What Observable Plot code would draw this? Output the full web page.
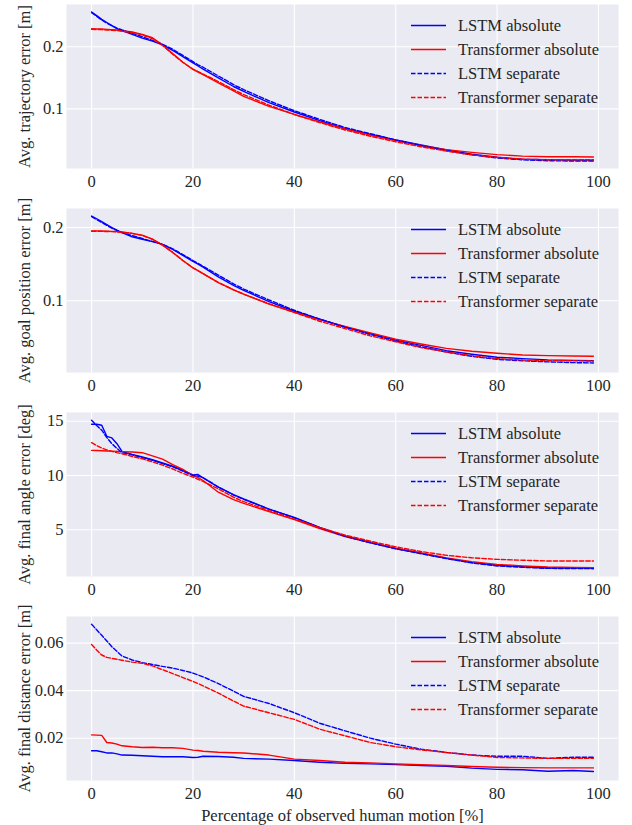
<!DOCTYPE html>
<html>
<head>
<meta charset="utf-8">
<script src="https://cdn.jsdelivr.net/npm/d3@7"></script>
<script src="https://cdn.jsdelivr.net/npm/@observablehq/plot@0.6"></script>
<style>
  body { margin: 0; background: #ffffff; }
  #chart { width: 632px; }
  .panel { position: relative; width: 632px; }
  .panel svg { display: block; }
  .panel svg, .panel svg text { font-family: 'Liberation Serif', 'Times New Roman', serif !important; }
</style>
</head>
<body>
<div id="chart"></div>
<script>
// ---------- data ----------
const xPct = [0,1,2,3,4,5,6,8,10,12,14,16,18,20,21,22,25,28,30,35,40,45,50,55,60,65,70,75,80,85,90,95,99];
const seriesNames = ["LSTM absolute", "Transformer absolute", "LSTM separate", "Transformer separate"];
const seriesColors = ["blue", "red", "blue", "red"];
const seriesDashed = [false, false, true, true];

// Avg. trajectory error [m]
const trajLstmAbs  = [0.256,0.250,0.244,0.239,0.234,0.229,0.226,0.220,0.214,0.209,0.203,0.194,0.184,0.174,0.169,0.164,0.150,0.136,0.128,0.110,0.095,0.081,0.068,0.059,0.050,0.042,0.034,0.027,0.022,0.019,0.018,0.0175,0.0175];
const trajTrAbs    = [0.229,0.2288,0.2285,0.228,0.2275,0.227,0.226,0.224,0.220,0.2145,0.203,0.189,0.175,0.1634,0.159,0.155,0.142,0.129,0.120,0.104,0.091,0.079,0.068,0.058,0.049,0.041,0.0344,0.030,0.0263,0.024,0.023,0.0228,0.0226];
const trajLstmSep  = [0.255,0.249,0.243,0.238,0.234,0.230,0.227,0.222,0.216,0.210,0.204,0.196,0.186,0.176,0.171,0.167,0.153,0.139,0.131,0.113,0.097,0.083,0.070,0.060,0.050,0.041,0.033,0.026,0.021,0.018,0.0165,0.016,0.016];
const trajTrSep    = [0.228,0.2278,0.2275,0.227,0.2265,0.226,0.225,0.223,0.219,0.213,0.202,0.188,0.175,0.164,0.160,0.156,0.144,0.131,0.123,0.106,0.091,0.078,0.066,0.056,0.047,0.039,0.032,0.026,0.022,0.019,0.018,0.018,0.018];

// Avg. goal position error [m]
const goalLstmAbs  = [0.2157,0.212,0.208,0.204,0.200,0.1964,0.193,0.1874,0.184,0.1807,0.177,0.170,0.162,0.1538,0.150,0.146,0.1327,0.121,0.1143,0.0987,0.0857,0.075,0.0641,0.055,0.0462,0.039,0.0318,0.027,0.0229,0.021,0.0193,0.0185,0.018];
const goalTrAbs    = [0.1955,0.1954,0.1953,0.195,0.1948,0.1945,0.194,0.192,0.1897,0.1843,0.176,0.166,0.155,0.1448,0.141,0.137,0.1247,0.115,0.109,0.0955,0.0843,0.074,0.065,0.056,0.0475,0.041,0.035,0.031,0.0283,0.026,0.0251,0.0245,0.0242];
const goalLstmSep  = [0.215,0.211,0.207,0.203,0.199,0.196,0.193,0.189,0.185,0.181,0.177,0.171,0.163,0.155,0.151,0.147,0.135,0.123,0.116,0.101,0.087,0.075,0.064,0.054,0.045,0.037,0.030,0.024,0.020,0.018,0.0165,0.0155,0.015];
const goalTrSep    = [0.195,0.1949,0.1948,0.1946,0.1944,0.194,0.1935,0.192,0.189,0.184,0.176,0.166,0.155,0.145,0.141,0.137,0.125,0.115,0.109,0.096,0.084,0.072,0.062,0.052,0.044,0.036,0.030,0.025,0.021,0.019,0.018,0.018,0.0177];

// Avg. final angle error [deg]
const angLstmAbs   = [14.72,14.72,14.63,13.6,13.46,12.93,12.22,11.94,11.7,11.45,11.15,10.85,10.46,10.06,10.09,9.78,8.92,8.24,7.84,6.91,6.14,5.22,4.44,3.83,3.27,2.84,2.38,1.98,1.73,1.6,1.48,1.48,1.48];
const angTrAbs     = [12.31,12.3,12.28,12.26,12.24,12.22,12.2,12.16,12.1,11.8,11.5,11.0,10.56,10.0,9.8,9.54,8.46,7.78,7.44,6.67,5.93,5.12,4.38,3.83,3.3,2.87,2.41,2.07,1.82,1.67,1.57,1.53,1.51];
const angLstmSep   = [15.09,14.6,14.17,13.5,12.93,12.5,12.1,11.9,11.65,11.4,11.1,10.8,10.4,10.0,9.95,9.8,8.95,8.2,7.8,6.9,6.1,5.2,4.4,3.8,3.25,2.8,2.35,1.95,1.67,1.55,1.45,1.43,1.42];
const angTrSep     = [13.02,12.75,12.53,12.35,12.22,12.1,12.0,11.75,11.54,11.25,10.95,10.6,10.2,9.85,9.65,9.45,8.77,8.0,7.6,6.76,5.99,5.2,4.51,3.95,3.43,3.0,2.65,2.42,2.28,2.2,2.13,2.13,2.13];

// Avg. final distance error [m]
const distLstmAbs  = [0.0147,0.0147,0.0143,0.0138,0.0138,0.0134,0.0129,0.0128,0.0126,0.0124,0.0122,0.0122,0.0122,0.0119,0.012,0.0124,0.0123,0.012,0.0115,0.0112,0.0106,0.0099,0.0094,0.0092,0.0089,0.0085,0.0082,0.0074,0.0069,0.0067,0.0061,0.0064,0.006];
const distTrAbs    = [0.0214,0.0213,0.0212,0.0182,0.018,0.0175,0.0168,0.0164,0.0161,0.0162,0.016,0.016,0.0157,0.015,0.0148,0.0145,0.0141,0.0139,0.0138,0.0129,0.0112,0.0106,0.0099,0.0096,0.0092,0.0088,0.0085,0.0081,0.0078,0.0076,0.0075,0.0075,0.0075];
const distLstmSep  = [0.0679,0.0656,0.0633,0.0609,0.0585,0.0565,0.0546,0.0529,0.0518,0.051,0.0502,0.0495,0.0485,0.0474,0.0466,0.0458,0.043,0.0398,0.0376,0.0346,0.0307,0.0263,0.0231,0.02,0.0175,0.0154,0.014,0.0129,0.0124,0.0124,0.0115,0.012,0.012];
const distTrSep    = [0.0594,0.0571,0.055,0.054,0.0536,0.0532,0.0528,0.052,0.0515,0.0504,0.0488,0.0472,0.0455,0.0439,0.043,0.042,0.039,0.0356,0.0335,0.0307,0.0279,0.0238,0.021,0.0182,0.0164,0.0151,0.014,0.0129,0.0119,0.0117,0.0115,0.0115,0.0115];

const panelSeries = [
  [trajLstmAbs, trajTrAbs, trajLstmSep, trajTrSep],
  [goalLstmAbs, goalTrAbs, goalLstmSep, goalTrSep],
  [angLstmAbs, angTrAbs, angLstmSep, angTrSep],
  [distLstmAbs, distTrAbs, distLstmSep, distTrSep]
];
const panelYLabels = [
  "Avg. trajectory error [m]",
  "Avg. goal position error [m]",
  "Avg. final angle error [deg]",
  "Avg. final distance error [m]"
];
const panelYTicks = [[0.1, 0.2], [0.1, 0.2], [5, 10, 15], [0.02, 0.04, 0.06]];
const panelYDomains = [[0.004, 0.268], [0.002, 0.226], [0.7, 15.8], [0.0022, 0.0712]];
const xTicks = [0, 20, 40, 60, 80, 100];
const xDomain = [-4.95, 103.95];
const xLabel = "Percentage of observed human motion [%]";

// ---------- style ----------
const FONT = "'Liberation Serif', 'Times New Roman', serif";
const TEXT = "#262626";
const BG = "#eaeaf2";
const LW = 1.4;
const DASH = "4.5,2";
const W = 632, ML = 66, MR = 14, MT = 4;

const root = document.getElementById("chart");

panelSeries.forEach((vals, p) => {
  const last = p === panelSeries.length - 1;
  const H = last ? 213 : 204;
  const MB = last ? 45 : 36;
  const rows = seriesNames.flatMap((name, i) =>
    xPct.map((x, j) => ({x, y: vals[i][j], series: name}))
  );

  const plot = Plot.plot({
    width: W, height: H,
    marginLeft: ML, marginRight: MR, marginTop: MT, marginBottom: MB,
    style: {fontFamily: FONT, fontSize: "16.5px", color: TEXT, background: "white", overflow: "visible"},
    x: {domain: xDomain},
    y: {domain: panelYDomains[p]},
    marks: [
      Plot.frame({fill: BG, stroke: "none"}),
      Plot.gridX(xTicks, {stroke: "white", strokeOpacity: 1, strokeWidth: 1.1}),
      Plot.gridY(panelYTicks[p], {stroke: "white", strokeOpacity: 1, strokeWidth: 1.1}),
      ...seriesNames.map((name, i) => Plot.line(rows.filter(d => d.series === name), {
        x: "x", y: "y", stroke: seriesColors[i], strokeWidth: LW,
        strokeDasharray: seriesDashed[i] ? DASH : undefined
      })),
      Plot.axisX(xTicks, {
        tickSize: 0, tickPadding: 7, tickFormat: d => String(d), fill: TEXT,
        fontFamily: FONT, fontSize: 16.5,
        label: last ? xLabel : null, labelAnchor: "center", labelOffset: 40, labelArrow: "none"
      }),
      Plot.axisY(panelYTicks[p], {
        tickSize: 0, tickPadding: 3, tickFormat: d => String(d), fill: TEXT,
        fontFamily: FONT, fontSize: 16.5,
        label: panelYLabels[p], labelAnchor: "center", labelOffset: 48, labelArrow: "none"
      })
    ]
  });

  const wrap = document.createElement("div");
  wrap.className = "panel";
  wrap.style.height = H + "px";
  wrap.appendChild(plot);
  root.appendChild(wrap);

  // legend overlay (upper right, inside the axes, no frame)
  const leg = d3.select(wrap).append("svg")
    .attr("width", W).attr("height", H)
    .style("position", "absolute").style("left", "0px").style("top", "0px")
    .style("pointer-events", "none")
    .attr("font-family", FONT).attr("font-size", 16.5);
  const right = W - MR;
  seriesNames.forEach((name, i) => {
    const yy = MT + 21.5 + 24 * i;
    leg.append("line")
      .attr("x1", right - 207).attr("x2", right - 172)
      .attr("y1", yy).attr("y2", yy)
      .attr("stroke", seriesColors[i]).attr("stroke-width", LW)
      .attr("stroke-dasharray", seriesDashed[i] ? DASH : null);
    leg.append("text")
      .attr("x", right - 160).attr("y", yy).attr("dy", "0.35em")
      .attr("fill", TEXT).text(name);
  });
});
</script>
</body>
</html>
